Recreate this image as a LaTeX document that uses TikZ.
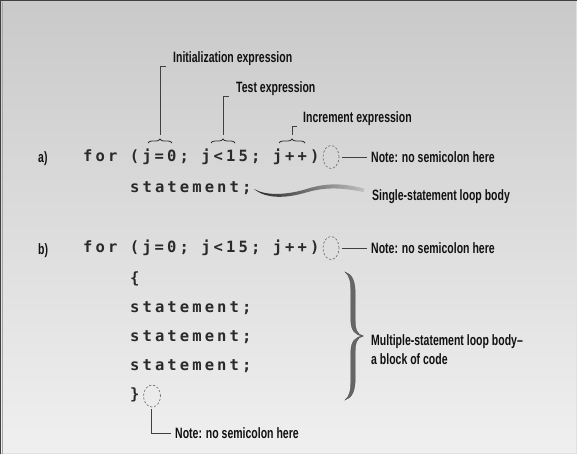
\documentclass[tikz,border=0pt]{standalone}
\usepackage{fontspec}
\usetikzlibrary{shapes.geometric,decorations.pathreplacing}
\newfontfamily\codefont[LetterSpace=20]{DejaVu Sans Mono Bold}
\newfontfamily\labfont[FakeStretch=0.7]{Liberation Sans Bold}
\definecolor{codecol}{HTML}{2A2A2A}
\definecolor{labcol}{HTML}{111111}
\tikzset{
  code/.style={anchor=base west,inner sep=0pt,text=codecol,font=\codefont\fontsize{15.5}{18}\selectfont},
  lab/.style={anchor=base west,inner sep=0pt,text=labcol,font=\labfont\fontsize{15}{19}\selectfont},
  lead/.style={draw=black!75,line width=0.8pt},
  dcirc/.style={ellipse,draw=black!55,dashed,dash pattern=on 2.2pt off 1.8pt,line width=0.7pt,minimum width=16pt,minimum height=23pt,inner sep=0pt},
  smallbrace/.style={draw=black!80,line width=0.8pt,decorate,decoration={brace,amplitude=4pt}},
  bigbrace/.style={fill=black!60,draw=black!70,line width=0.3pt}
}
\begin{document}
\begin{tikzpicture}[x=1pt,y=-1pt]
\useasboundingbox (0,0) rectangle (577,454);
% background
\shade[top color=black!21,bottom color=black!6] (0,0) rectangle (577,454);
\draw[black!12,line width=1pt] (576.5,0) -- (576.5,453.5) -- (0,453.5);
\draw[black!75,line width=1.2pt] (0.6,454) -- (0.6,0.6) -- (577,0.6);
\draw[black!35,line width=0.8pt] (2.2,454) -- (2.2,2);

% ---- part a ----
\node[lab] (la) at (38,163) {a)};
\node[code] (fa) at (83,161.5) {for (j=0; j<15; j++)};
\node[code] (sa) at (130,192.5) {statement;};

% expression braces
\draw[smallbrace] (148,143) -- (172,143);
\draw[smallbrace] (211,143) -- (235,143);
\draw[smallbrace] (279,143) -- (305,143);
\coordinate (bt1) at (160,135);
\coordinate (bt2) at (223,135);
\coordinate (bt3) at (292,135);

\node[lab] (init) at (173,63) {Initialization expression};
\node[lab] (test) at (236,93) {Test expression};
\node[lab] (incr) at (303,123) {Increment expression};
\draw[lead] (bt1) |- ([xshift=-7.5pt,yshift=-3.5pt]init.base west);
\draw[lead] (bt2) |- ([xshift=-7pt,yshift=-3.5pt]test.base west);
\draw[lead] (bt3) |- ([xshift=-6pt,yshift=-3.5pt]incr.base west);

\node[dcirc] (ca) at (331,157) {};
\node[lab] (na) at (371,162.5) {Note: no semicolon here};
\draw[lead] ([xshift=2.5pt]ca.east) -- ([xshift=-4pt]na.west |- ca.east);

% swoosh
\node[lab] (single) at (372,200.5) {Single-statement loop body};
\shade[left color=black!85,right color=black!25]
  (254,189) .. controls (266,196) and (286,195) .. (305,189.5)
  .. controls (321,184.5) and (337,181.5) .. (364,188.5)
  -- (363.5,192)
  .. controls (337,186.5) and (322,188) .. (306,192.5)
  .. controls (286,198.5) and (266,199) .. (254,189) -- cycle;

% ---- part b ----
\node[lab] (lb) at (38,254) {b)};
\node[code] (fb) at (83,252.5) {for (j=0; j<15; j++)};
\node[dcirc] (cb) at (331,248) {};
\node[lab] (nb) at (371,253.5) {Note: no semicolon here};
\draw[lead] ([xshift=2.5pt]cb.east) -- ([xshift=-4pt]nb.west |- cb.east);

\node[code] (ob) at (130,283.5) {\{};
\node[code] (s1) at (130,312.5) {statement;};
\node[code] (s2) at (130,341.5) {statement;};
\node[code] (s3) at (130,370.5) {statement;};
\node[code] (cbr) at (130,399.5) {\}};

\node[dcirc,minimum width=17pt,minimum height=22pt] (cc) at (152,396) {};
\node[lab] (nc) at (175,438.5) {Note: no semicolon here};
\draw[lead] ([yshift=-1.5pt]cc.south -| 151,0) |- ([xshift=-4pt]nc.west);

% big brace
\fill[bigbrace]
  (345,272) .. controls (352,274) and (355.2,281) .. (355.2,293)
  -- (355.2,319) .. controls (355.2,330) and (357,334) .. (363,336)
  .. controls (355,335.5) and (350.8,330) .. (350.8,320)
  -- (350.8,293) .. controls (350.8,282) and (350,276) .. (345,272) -- cycle;
\fill[bigbrace]
  (345,400) .. controls (352,398) and (355.2,391) .. (355.2,379)
  -- (355.2,353) .. controls (355.2,342) and (357,338) .. (363,336)
  .. controls (355,336.5) and (350.8,342) .. (350.8,352)
  -- (350.8,379) .. controls (350.8,390) and (350,396) .. (345,400) -- cycle;
\node[lab,anchor=west,align=left] (multi) at (371,349.5) {Multiple-statement loop body\textendash\\a block of code};
\end{tikzpicture}
\end{document}
